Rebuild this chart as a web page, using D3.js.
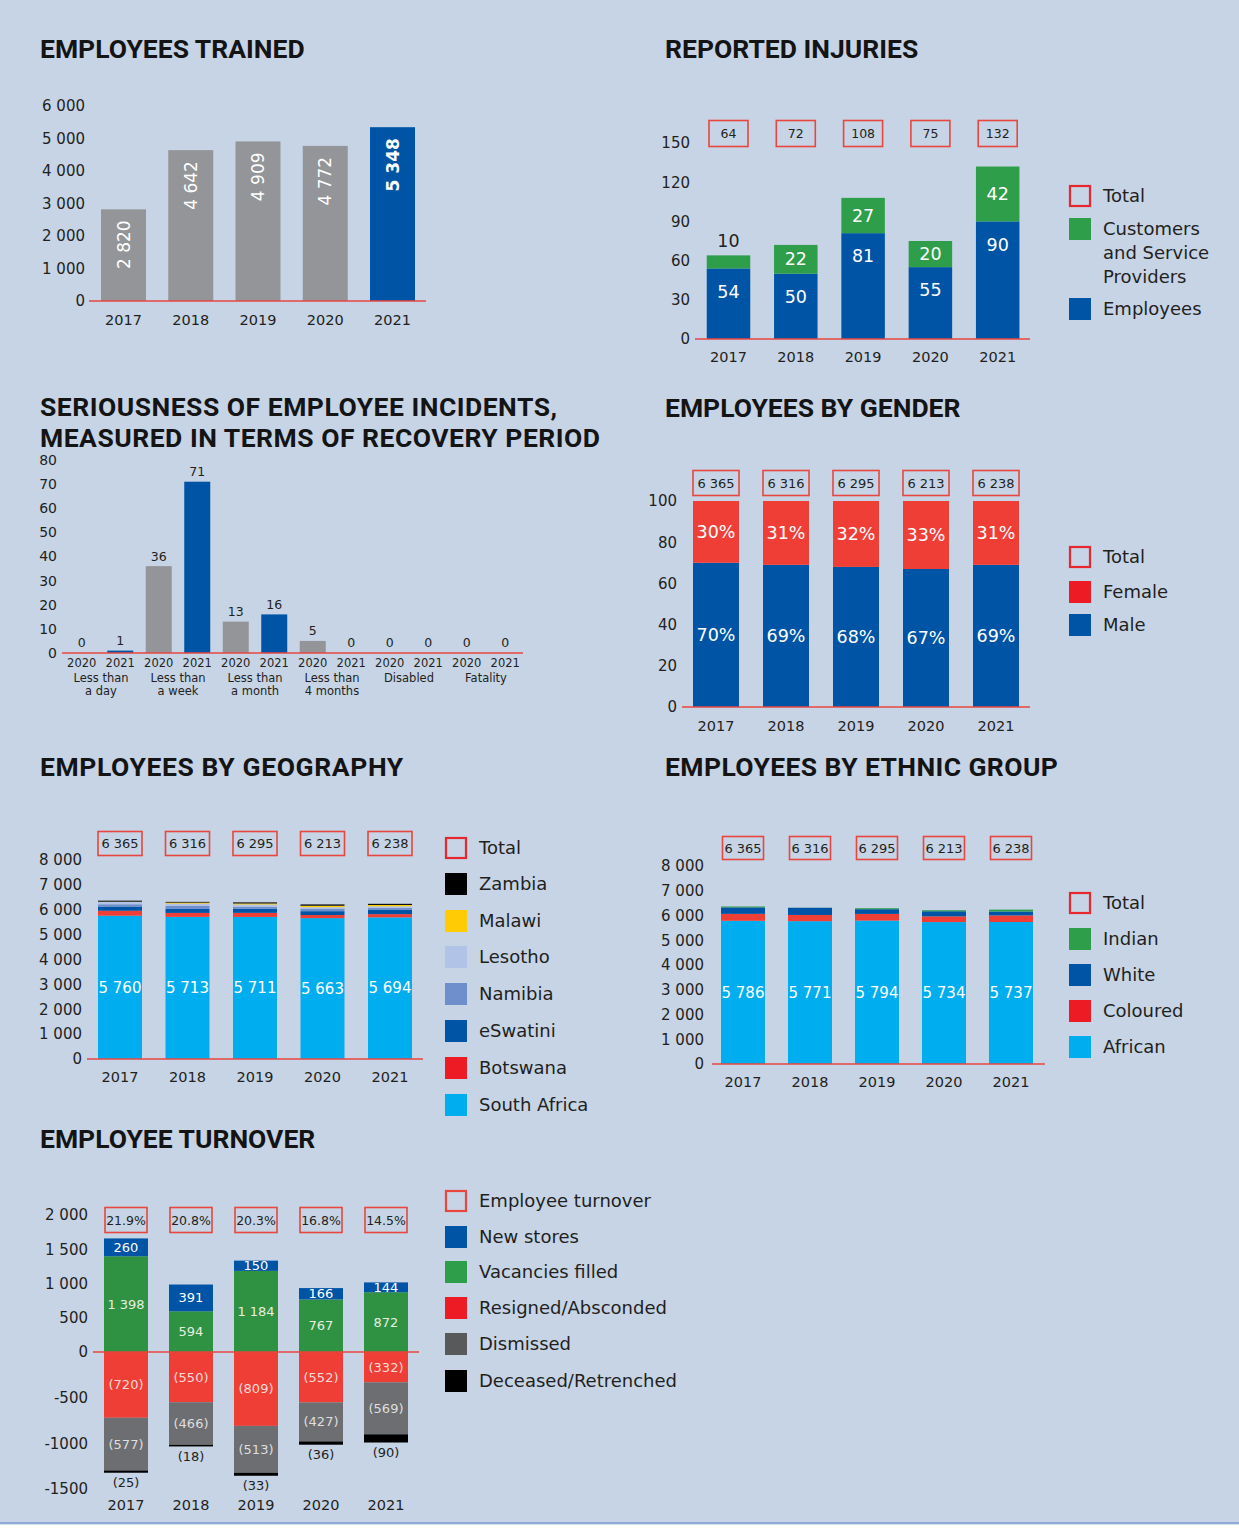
<!DOCTYPE html>
<html>
<head>
<meta charset="utf-8">
<script src="https://cdn.jsdelivr.net/npm/d3@7"></script>
<style>
  body { margin: 0; background: #c6d4e6; }
  svg text { font-family: "DejaVu Sans", sans-serif; }
</style>
</head>
<body>
<svg id="chart" width="1239" height="1528"></svg>
<script>
var years = ["2017", "2018", "2019", "2020", "2021"];

// employees trained
var trainedValues = [2820, 4642, 4909, 4772, 5348];

// reported injuries
var injuryEmployees = [54, 50, 81, 55, 90];
var injuryCustomers = [10, 22, 27, 20, 42];
var injuryTotals = [64, 72, 108, 75, 132];

// seriousness of incidents
var severityCategories = [["Less than", "a day"], ["Less than", "a week"], ["Less than", "a month"], ["Less than", "4 months"], ["Disabled"], ["Fatality"]];
var severityYears = ["2020", "2021"];
var severity2020 = [0, 36, 13, 5, 0, 0];
var severity2021 = [1, 71, 16, 0, 0, 0];

// gender (percent) and headcount
var genderMale = [70, 69, 68, 67, 69];
var genderFemale = [30, 31, 32, 33, 31];
var headcountTotals = [6365, 6316, 6295, 6213, 6238];

// geography
var geoSouthAfrica = [5760, 5713, 5711, 5663, 5694];
var geoBotswana = [200, 160, 165, 125, 130];
var geoEswatini = [170, 160, 165, 155, 170];
var geoNamibia = [90, 120, 75, 100, 85];
var geoLesotho = [95, 95, 95, 60, 60];
var geoMalawi = [10, 40, 42, 60, 55];
var geoZambia = [40, 28, 42, 50, 44];

// ethnic group
var ethAfrican = [5786, 5771, 5794, 5734, 5737];
var ethColoured = [280, 250, 270, 232, 265];
var ethWhite = [260, 290, 190, 205, 158];
var ethIndian = [39, 5, 41, 42, 78];

// turnover
var toNewStores = [260, 391, 150, 166, 144];
var toVacancies = [1398, 594, 1184, 767, 872];
var toResigned = [720, 550, 809, 552, 332];
var toDismissed = [577, 466, 513, 427, 569];
var toDeceased = [25, 18, 33, 36, 90];
var toRates = ["21.9%", "20.8%", "20.3%", "16.8%", "14.5%"];

var RED = "#e8463f", BLUE = "#0054a6", GREY = "#939598", GREEN = "#2f9e4a",
    DGREEN = "#2f9142", CYAN = "#00aeef", INK = "#231f20", BRED = "#ef3e36";

var svg = d3.select("#chart");
svg.append("rect").attr("width", 1239).attr("height", 1528).attr("fill", "#c6d4e6");
svg.append("rect").attr("y", 1522).attr("width", 1239).attr("height", 2.5).attr("fill", "#8eaad8");
svg.append("rect").attr("y", 1524.5).attr("width", 1239).attr("height", 4).attr("fill", "#ffffff");

var fmtSpace = d3.formatLocale({decimal: ".", thousands: " ", grouping: [3], currency: ["", ""]}).format(",");

function bandScale(domain, c0, step, bw)
{
  var p = 1 - bw / step;
  return d3.scaleBand().domain(domain)
           .range([c0 - step / 2, c0 - step / 2 + domain.length * step])
           .paddingInner(p).paddingOuter(p / 2);
}

function title(lines, x, y, spacing)
{
  lines.forEach(function (t, i) {
    svg.append("text").attr("x", x).attr("y", y + i * 31).text(t)
       .style("font-family", "Roboto, sans-serif").style("font-weight", 700)
       .style("font-size", "26.5px").style("letter-spacing", (spacing || 0) + "px")
       .attr("fill", "#141414");
  });
}

function yAxis(y, ticks, fmt, xRight, size)
{
  var a = svg.append("g").attr("transform", "translate(" + xRight + ",0)")
             .call(d3.axisLeft(y).tickValues(ticks).tickFormat(fmt).tickSize(0).tickPadding(0));
  a.select(".domain").remove();
  a.selectAll("text").attr("fill", INK).style("font-size", size + "px").style("font-family", "DejaVu Sans");
}

function xLabels(x, keys, yPos, size)
{
  svg.append("g").selectAll("text").data(keys).enter().append("text")
     .attr("x", function (d) { return x(d) + x.bandwidth() / 2; })
     .attr("y", yPos).attr("dy", "0.35em").attr("text-anchor", "middle")
     .style("font-size", size + "px").attr("fill", INK)
     .text(function (d) { return d; });
}

function baseline(x1, x2, y)
{
  svg.append("line").attr("x1", x1).attr("x2", x2).attr("y1", y).attr("y2", y)
     .attr("stroke", RED).attr("stroke-width", 1.5);
}

function totalBoxes(x, texts, cy, w, h, size)
{
  var g = svg.append("g").selectAll("g").data(texts).enter().append("g")
             .attr("transform", function (d, i) { return "translate(" + (x(years[i]) + x.bandwidth() / 2) + "," + cy + ")"; });
  g.append("rect").attr("x", -w / 2).attr("y", -h / 2).attr("width", w).attr("height", h)
   .attr("fill", "none").attr("stroke", RED).attr("stroke-width", 1.6);
  g.append("text").attr("text-anchor", "middle").attr("dy", "0.36em")
   .style("font-size", size + "px").attr("fill", INK).text(function (d) { return d; });
}

function legend(items, x, centers)
{
  var g = svg.append("g").selectAll("g").data(items).enter().append("g")
             .attr("transform", function (d, i) { return "translate(" + x + "," + centers[i] + ")"; });
  g.append("rect")
   .attr("x", function (d) { return d.outline ? 1 : 0; })
   .attr("y", function (d) { return d.outline ? -10 : -11; })
   .attr("width", function (d) { return d.outline ? 20 : 22; })
   .attr("height", function (d) { return d.outline ? 20 : 22; })
   .attr("fill", function (d) { return d.outline ? "none" : d.color; })
   .attr("stroke", function (d) { return d.outline ? d.color : "none"; })
   .attr("stroke-width", 2.2);
  g.each(function (d) {
    var lines = d.name.split("|");
    lines.forEach(function (t, i) {
      d3.select(this).append("text").attr("x", 34).attr("y", i * 24).attr("dy", "0.35em")
        .style("font-size", "18px").attr("fill", INK).text(t);
    }, this);
  });
}

function stackRows(series)
{
  return years.map(function (yr, i) {
    var row = {year: yr};
    series.forEach(function (s) { row[s.key] = s.values[i]; });
    return row;
  });
}

function drawStack(series, x, y, offset)
{
  var rows = stackRows(series);
  var stack = d3.stack().keys(series.map(function (s) { return s.key; }));
  if (offset) stack.offset(offset);
  var layers = stack(rows);
  var g = svg.append("g");
  layers.forEach(function (layer, li) {
    g.append("g").attr("fill", series[li].color).selectAll("rect").data(layer).enter().append("rect")
     .attr("x", function (d) { return x(d.data.year); })
     .attr("width", x.bandwidth())
     .attr("y", function (d) { return y(Math.max(d[0], d[1])); })
     .attr("height", function (d) { return Math.abs(y(d[0]) - y(d[1])); });
  });
  return layers;
}

// ---------- EMPLOYEES TRAINED ----------
title(["EMPLOYEES TRAINED"], 40, 58);
var x1 = bandScale(years, 123.5, 67.25, 45);
var y1 = d3.scaleLinear().domain([0, 6000]).range([301, 106]);
yAxis(y1, d3.range(0, 6001, 1000), fmtSpace, 85, 15);
svg.append("g").selectAll("rect").data(trainedValues).enter().append("rect")
   .attr("x", function (d, i) { return x1(years[i]); })
   .attr("width", x1.bandwidth())
   .attr("y", function (d) { return y1(d); })
   .attr("height", function (d) { return y1(0) - y1(d); })
   .attr("fill", function (d, i) { return i == 4 ? BLUE : GREY; });
svg.append("g").selectAll("text").data(trainedValues).enter().append("text")
   .attr("transform", function (d, i) { return "translate(" + (x1(years[i]) + x1.bandwidth() / 2) + "," + (y1(d) + 11) + ") rotate(-90)"; })
   .attr("text-anchor", "end").attr("dy", "0.36em")
   .style("font-size", "17px").style("font-weight", function (d, i) { return i == 4 ? 700 : 400; })
   .attr("fill", "#ffffff").text(function (d) { return fmtSpace(d); });
baseline(89, 426, 301);
xLabels(x1, years, 320, 14.5);

// ---------- REPORTED INJURIES ----------
title(["REPORTED INJURIES"], 665, 58);
var x2 = bandScale(years, 728.5, 67.3, 43.5);
var y2 = d3.scaleLinear().domain([0, 150]).range([339, 143]);
yAxis(y2, d3.range(0, 151, 30), d3.format("d"), 690, 15);
var injLayers = drawStack([
  {key: "employees", values: injuryEmployees, color: BLUE},
  {key: "customers", values: injuryCustomers, color: GREEN}
], x2, y2);
svg.append("g").selectAll("text").data(injLayers[0]).enter().append("text")
   .attr("x", function (d) { return x2(d.data.year) + x2.bandwidth() / 2; })
   .attr("y", function (d) { return y2(d[1]) + 23; }).attr("dy", "0.35em")
   .attr("text-anchor", "middle").style("font-size", "17.5px").attr("fill", "#fff")
   .text(function (d) { return d.data.employees; });
svg.append("g").selectAll("text").data(injLayers[1]).enter().append("text")
   .attr("x", function (d) { return x2(d.data.year) + x2.bandwidth() / 2; })
   .attr("y", function (d) {
     var h = y2(d[0]) - y2(d[1]);
     return h < 20 ? y2(d[1]) - 14 : (y2(d[0]) + y2(d[1])) / 2;
   }).attr("dy", "0.35em")
   .attr("text-anchor", "middle").style("font-size", "17.5px")
   .attr("fill", function (d) { return y2(d[0]) - y2(d[1]) < 20 ? INK : "#fff"; })
   .text(function (d) { return d.data.customers; });
totalBoxes(x2, injuryTotals, 133.5, 39, 26, 12.5);
baseline(695, 1030, 339);
xLabels(x2, years, 357, 14.5);
legend([
  {name: "Total", color: "#e8262d", outline: true},
  {name: "Customers|and Service|Providers", color: GREEN},
  {name: "Employees", color: BLUE}
], 1069, [196, 229, 309]);

// ---------- SERIOUSNESS ----------
title(["SERIOUSNESS OF EMPLOYEE INCIDENTS,", "MEASURED IN TERMS OF RECOVERY PERIOD"], 40, 416, 0.5);
var catKeys = severityCategories.map(function (c) { return c.join(" "); });
var x3 = d3.scaleBand().domain(catKeys).range([62.5, 524.5]);
var x3in = bandScale(severityYears, 19.25, 38.5, 26);
var y3 = d3.scaleLinear().domain([0, 80]).range([653, 460]);
yAxis(y3, d3.range(0, 81, 10), d3.format("d"), 57, 14);
var sevRows = [];
catKeys.forEach(function (c, i) {
  sevRows.push({cat: c, year: "2020", value: severity2020[i]});
  sevRows.push({cat: c, year: "2021", value: severity2021[i]});
});
svg.append("g").selectAll("rect").data(sevRows).enter().append("rect")
   .attr("x", function (d) { return x3(d.cat) + x3in(d.year); })
   .attr("width", x3in.bandwidth())
   .attr("y", function (d) { return y3(d.value); })
   .attr("height", function (d) { return y3(0) - y3(d.value); })
   .attr("fill", function (d) { return d.year == "2020" ? GREY : BLUE; });
svg.append("g").selectAll("text").data(sevRows).enter().append("text")
   .attr("x", function (d) { return x3(d.cat) + x3in(d.year) + x3in.bandwidth() / 2; })
   .attr("y", function (d) { return y3(d.value) - 10; }).attr("dy", "0.35em")
   .attr("text-anchor", "middle").style("font-size", "12.5px").attr("fill", INK)
   .text(function (d) { return d.value; });
svg.append("g").selectAll("text").data(sevRows).enter().append("text")
   .attr("x", function (d) { return x3(d.cat) + x3in(d.year) + x3in.bandwidth() / 2; })
   .attr("y", 663).attr("dy", "0.35em")
   .attr("text-anchor", "middle").style("font-size", "11.5px").attr("fill", INK)
   .text(function (d) { return d.year; });
severityCategories.forEach(function (lines, i) {
  lines.forEach(function (t, j) {
    svg.append("text").attr("x", x3(catKeys[i]) + x3.bandwidth() / 2).attr("y", 678 + j * 13)
       .attr("dy", "0.35em").attr("text-anchor", "middle")
       .style("font-size", "11.5px").attr("fill", INK).text(t);
  });
});
baseline(62, 523, 653);

// ---------- EMPLOYEES BY GENDER ----------
title(["EMPLOYEES BY GENDER"], 665, 417);
var x4 = bandScale(years, 716, 70, 46);
var y4 = d3.scaleLinear().domain([0, 100]).range([707, 501]);
yAxis(y4, d3.range(0, 101, 20), d3.format("d"), 677, 15);
var genLayers = drawStack([
  {key: "male", values: genderMale, color: BLUE},
  {key: "female", values: genderFemale, color: BRED}
], x4, y4);
genLayers.forEach(function (layer) {
  svg.append("g").selectAll("text").data(layer).enter().append("text")
     .attr("x", function (d) { return x4(d.data.year) + x4.bandwidth() / 2; })
     .attr("y", function (d) { return (y4(d[0]) + y4(d[1])) / 2; }).attr("dy", "0.35em")
     .attr("text-anchor", "middle").style("font-size", "17.5px").attr("fill", "#fff")
     .text(function (d) { return (d[1] - d[0]) + "%"; });
});
totalBoxes(x4, headcountTotals.map(fmtSpace), 483, 46, 25, 13);
baseline(682, 1030, 707);
xLabels(x4, years, 726, 14.5);
legend([
  {name: "Total", color: "#e8262d", outline: true},
  {name: "Female", color: "#ed1c24"},
  {name: "Male", color: BLUE}
], 1069, [557, 592, 625]);

// ---------- EMPLOYEES BY GEOGRAPHY ----------
title(["EMPLOYEES BY GEOGRAPHY"], 40, 776, 0.6);
var x5 = bandScale(years, 120, 67.5, 44);
var y5 = d3.scaleLinear().domain([0, 8000]).range([1059, 860]);
yAxis(y5, d3.range(0, 8001, 1000), fmtSpace, 82, 15);
var geoSeries = [
  {key: "South Africa", values: geoSouthAfrica, color: CYAN},
  {key: "Botswana", values: geoBotswana, color: BRED},
  {key: "eSwatini", values: geoEswatini, color: BLUE},
  {key: "Namibia", values: geoNamibia, color: "#6f8fcc"},
  {key: "Lesotho", values: geoLesotho, color: "#b1c3e6"},
  {key: "Malawi", values: geoMalawi, color: "#ffcb05"},
  {key: "Zambia", values: geoZambia, color: "#000000"}
];
var geoLayers = drawStack(geoSeries, x5, y5);
svg.append("g").selectAll("text").data(geoLayers[0]).enter().append("text")
   .attr("x", function (d) { return x5(d.data.year) + x5.bandwidth() / 2; })
   .attr("y", function (d) { return (y5(d[0]) + y5(d[1])) / 2; }).attr("dy", "0.35em")
   .attr("text-anchor", "middle").style("font-size", "15px").attr("fill", "#fff")
   .text(function (d) { return fmtSpace(d[1] - d[0]); });
totalBoxes(x5, headcountTotals.map(fmtSpace), 843.5, 44, 24, 13);
baseline(87, 423, 1059);
xLabels(x5, years, 1077, 14.5);
legend([{name: "Total", color: "#e8262d", outline: true}].concat(geoSeries.slice().reverse().map(function (s) {
  return {name: s.key, color: s.key == "Botswana" ? "#ed1c24" : s.color};
})), 445, [848, 884, 921, 957, 994, 1031, 1068, 1105]);

// ---------- EMPLOYEES BY ETHNIC GROUP ----------
title(["EMPLOYEES BY ETHNIC GROUP"], 665, 776, 0.4);
var x6 = bandScale(years, 743, 67, 44);
var y6 = d3.scaleLinear().domain([0, 8000]).range([1064, 866]);
yAxis(y6, d3.range(0, 8001, 1000), fmtSpace, 704, 15);
var ethSeries = [
  {key: "African", values: ethAfrican, color: CYAN},
  {key: "Coloured", values: ethColoured, color: BRED},
  {key: "White", values: ethWhite, color: BLUE},
  {key: "Indian", values: ethIndian, color: GREEN}
];
var ethLayers = drawStack(ethSeries, x6, y6);
svg.append("g").selectAll("text").data(ethLayers[0]).enter().append("text")
   .attr("x", function (d) { return x6(d.data.year) + x6.bandwidth() / 2; })
   .attr("y", function (d) { return (y6(d[0]) + y6(d[1])) / 2; }).attr("dy", "0.35em")
   .attr("text-anchor", "middle").style("font-size", "15px").attr("fill", "#fff")
   .text(function (d) { return fmtSpace(d[1] - d[0]); });
totalBoxes(x6, headcountTotals.map(fmtSpace), 848, 41, 23, 13);
baseline(712, 1045, 1064);
xLabels(x6, years, 1082, 14.5);
legend([{name: "Total", color: "#e8262d", outline: true}].concat(ethSeries.slice().reverse().map(function (s) {
  return {name: s.key, color: s.key == "Coloured" ? "#ed1c24" : s.color};
})), 1069, [903, 939, 975, 1011, 1047]);

// ---------- EMPLOYEE TURNOVER ----------
title(["EMPLOYEE TURNOVER"], 40, 1148);
var x7 = bandScale(years, 126, 65, 44);
var y7 = d3.scaleLinear().domain([-1500, 0, 2000]).range([1489, 1352, 1215]);
yAxis(y7, [2000, 1500, 1000, 500, 0, -500, -1000, -1500],
      function (v) { return v >= 0 ? fmtSpace(v) : String(v); }, 88, 15);
var toSeries = [
  {key: "vacancies", values: toVacancies, color: DGREEN, label: "#e6efe0"},
  {key: "newStores", values: toNewStores, color: BLUE, label: "#ffffff"},
  {key: "resigned", values: toResigned.map(function (v) { return -v; }), color: BRED, label: "#f7dcd6"},
  {key: "dismissed", values: toDismissed.map(function (v) { return -v; }), color: "#6d6e71", label: "#dedede"},
  {key: "deceased", values: toDeceased.map(function (v) { return -v; }), color: "#000000"}
];
var toLayers = drawStack(toSeries, x7, y7, d3.stackOffsetDiverging);
function toLabel(v) { return v < 0 ? "(" + fmtSpace(-v) + ")" : fmtSpace(v); }
toLayers.forEach(function (layer, li) {
  var s = toSeries[li];
  svg.append("g").selectAll("text").data(layer).enter().append("text")
     .attr("x", function (d) { return x7(d.data.year) + x7.bandwidth() / 2; })
     .attr("y", function (d) {
       if (!s.label) return y7(Math.min(d[0], d[1])) + 10;
       return (y7(d[0]) + y7(d[1])) / 2;
     }).attr("dy", "0.35em")
     .attr("text-anchor", "middle").style("font-size", "13px")
     .attr("fill", s.label || INK)
     .text(function (d) { return toLabel(d.data[s.key]); });
});
totalBoxes(x7, toRates, 1220, 42, 25, 12.5);
baseline(93, 419, 1352);
xLabels(x7, years, 1505, 14.5);
legend([
  {name: "Employee turnover", color: "#e8463f", outline: true},
  {name: "New stores", color: BLUE},
  {name: "Vacancies filled", color: GREEN},
  {name: "Resigned/Absconded", color: "#ed1c24"},
  {name: "Dismissed", color: "#58595b"},
  {name: "Deceased/Retrenched", color: "#000000"}
], 445, [1201, 1237, 1272, 1308, 1344, 1381]);
</script>
</body>
</html>
